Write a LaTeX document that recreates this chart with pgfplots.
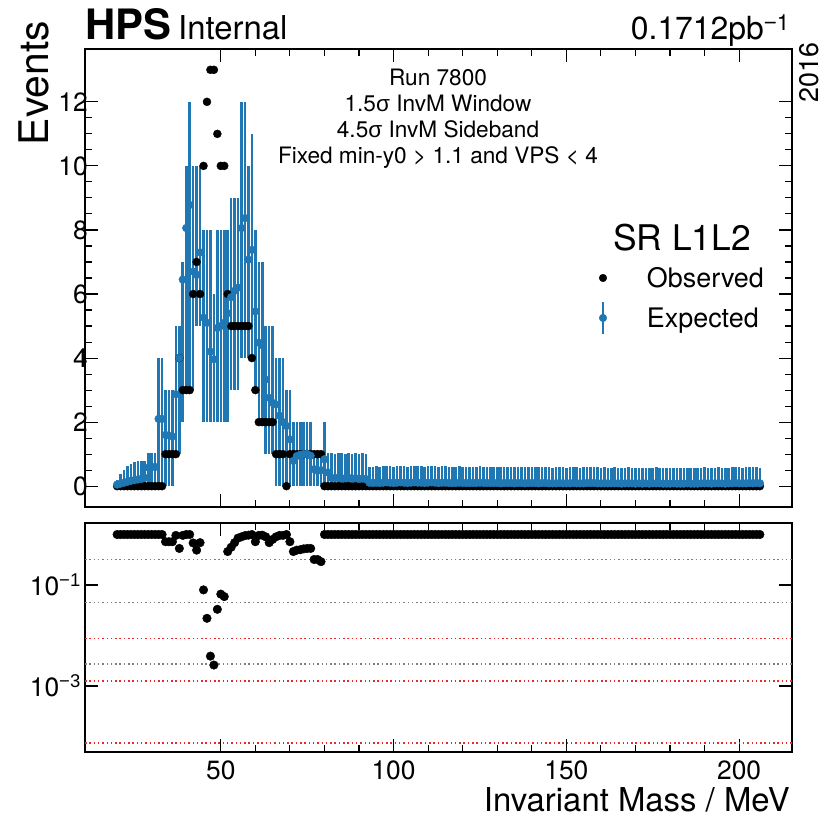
\documentclass[border=0pt]{standalone}
\usepackage{fontspec}
\setmainfont{TeX Gyre Heros}
\newfontfamily\lib{Liberation Sans}
\usepackage{pgfplots}
\usepackage{pgfplotstable}
\pgfplotsset{compat=1.18}
\definecolor{tabblue}{HTML}{1F77B4}
\definecolor{refgray}{HTML}{808080}
\definecolor{refred}{HTML}{E8282B}

\pgfplotstableread{
m obs exp lo hi p
20 0 0.05 0 0.20 1
21 0 0.08 0 0.38 1
22 0 0.11 0 0.52 1
23 0 0.14 0 0.62 1
24 0 0.17 0 0.70 1
25 0 0.19 0 0.75 1
26 0 0.21 0 0.78 1
27 0 0.23 0 0.79 1
28 0 0.26 0 0.80 1
29 0 0.58 0 1.05 1
30 0 0.60 0 1.05 1
31 0 0.60 0 1.05 1
32 0 2.10 0 4 1
33 0 2.10 0 4 1
34 1 1.60 0 3 0.72
35 1 1.58 0 3 0.72
36 1 1.55 0 3 0.72
37 1 2.87 1 5 0.96
38 4 4.00 1 5 0.53
39 3 6.45 2 7 0.96
40 3 8.06 3 10 1.0
41 3 8.78 3 12 1.0
42 6 6.70 3 10 0.68
43 7 6.60 5 10 0.49
44 6 7.30 5 10 0.69
45 10 5.26 2 8 0.080
46 12 5.10 2 8 0.0219
47 13 4.20 2 8 0.0039
48 13 3.96 2 6 0.0026
49 11 4.94 2 8 0.033
50 10 5.00 2 8 0.066
51 10 5.10 2 8 0.059
52 6 5.40 2 8 0.46
53 5 5.90 3 9 0.56
54 5 6.10 3 9 0.69
55 5 6.20 3 9 0.85
56 5 8.06 4 12 0.90
57 5 8.37 4 12 0.95
58 5 7.07 4 10 0.97
59 4 7.38 4 11 1.0
60 3 5.46 3 8 0.72
61 2 4.48 2 7 0.96
62 2 4.40 2 7 0.97
63 2 3.33 1 5 0.90
64 2 2.76 1 5 0.69
65 2 2.60 1 5 0.80
66 1 2.55 0 4 0.90
67 1 2.20 0 4 0.96
68 1 2.00 0 4 0.96
69 0 1.88 0 3 1.0
70 1 1.46 0 3 0.72
71 1 0.79 0 2 0.46
72 1 0.94 0 2 0.49
73 1 0.98 0 2 0.50
74 1 1.00 0 2 0.52
75 1 1.00 0 2 0.53
76 1 0.95 0 2 0.53
77 1 0.53 0 1 0.32
78 1 0.48 0 1 0.32
79 1 0.50 0 1 0.29
80 0 0.84 0 2 1
81 0 0.43 0 1.03 1
82 0 0.26 0 1.03 1
83 0 0.25 0 1.02 1
84 0 0.27 0 1.03 1
85 0 0.24 0 1.03 1
86 0 0.25 0 1.02 1
87 0 0.26 0 1.03 1
88 0 0.24 0 1.02 1
89 0 0.25 0 1.03 1
90 0 0.23 0 1.02 1
91 0 0.24 0 1.03 1
92 0 0.22 0 1.02 1
93 0 0.11 0 0.60 1
94 0 0.10 0 0.61 1
95 0 0.11 0 0.62 1
96 0 0.10 0 0.61 1
97 0 0.11 0 0.62 1
98 0 0.12 0 0.63 1
99 0 0.11 0 0.62 1
100 0 0.10 0 0.61 1
101 0 0.11 0 0.62 1
102 0 0.12 0 0.63 1
103 0 0.11 0 0.62 1
104 0 0.10 0 0.61 1
105 0 0.11 0 0.62 1
106 0 0.12 0 0.63 1
107 0 0.11 0 0.62 1
108 0 0.11 0 0.62 1
109 0 0.10 0 0.61 1
110 0 0.11 0 0.62 1
111 0 0.12 0 0.63 1
112 0 0.11 0 0.62 1
113 0 0.10 0 0.61 1
114 0 0.11 0 0.62 1
115 0 0.11 0 0.62 1
116 0 0.10 0 0.61 1
117 0 0.10 0 0.60 1
118 0 0.10 0 0.61 1
119 0 0.11 0 0.62 1
120 0 0.10 0 0.61 1
121 0 0.10 0 0.60 1
122 0 0.10 0 0.61 1
123 0 0.10 0 0.60 1
124 0 0.10 0 0.61 1
125 0 0.11 0 0.62 1
126 0 0.10 0 0.61 1
127 0 0.10 0 0.60 1
128 0 0.10 0 0.60 1
129 0 0.10 0 0.61 1
130 0 0.10 0 0.60 1
131 0 0.09 0 0.59 1
132 0 0.10 0 0.60 1
133 0 0.10 0 0.61 1
134 0 0.10 0 0.60 1
135 0 0.09 0 0.59 1
136 0 0.10 0 0.60 1
137 0 0.10 0 0.60 1
138 0 0.09 0 0.59 1
139 0 0.10 0 0.60 1
140 0 0.10 0 0.61 1
141 0 0.10 0 0.60 1
142 0 0.09 0 0.59 1
143 0 0.10 0 0.60 1
144 0 0.10 0 0.60 1
145 0 0.09 0 0.59 1
146 0 0.09 0 0.58 1
147 0 0.09 0 0.59 1
148 0 0.10 0 0.60 1
149 0 0.09 0 0.59 1
150 0 0.09 0 0.58 1
151 0 0.09 0 0.59 1
152 0 0.10 0 0.60 1
153 0 0.09 0 0.59 1
154 0 0.09 0 0.58 1
155 0 0.09 0 0.59 1
156 0 0.10 0 0.60 1
157 0 0.10 0 0.61 1
158 0 0.10 0 0.60 1
159 0 0.09 0 0.59 1
160 0 0.09 0 0.58 1
161 0 0.09 0 0.59 1
162 0 0.09 0 0.58 1
163 0 0.09 0 0.58 1
164 0 0.09 0 0.59 1
165 0 0.09 0 0.58 1
166 0 0.08 0 0.57 1
167 0 0.09 0 0.58 1
168 0 0.09 0 0.59 1
169 0 0.09 0 0.58 1
170 0 0.08 0 0.57 1
171 0 0.09 0 0.58 1
172 0 0.08 0 0.57 1
173 0 0.09 0 0.58 1
174 0 0.08 0 0.57 1
175 0 0.09 0 0.58 1
176 0 0.09 0 0.59 1
177 0 0.09 0 0.58 1
178 0 0.08 0 0.57 1
179 0 0.08 0 0.56 1
180 0 0.08 0 0.57 1
181 0 0.09 0 0.58 1
182 0 0.08 0 0.57 1
183 0 0.08 0 0.56 1
184 0 0.08 0 0.57 1
185 0 0.09 0 0.58 1
186 0 0.08 0 0.57 1
187 0 0.08 0 0.56 1
188 0 0.08 0 0.57 1
189 0 0.09 0 0.58 1
190 0 0.09 0 0.59 1
191 0 0.09 0 0.58 1
192 0 0.08 0 0.57 1
193 0 0.09 0 0.58 1
194 0 0.09 0 0.59 1
195 0 0.09 0 0.58 1
196 0 0.08 0 0.57 1
197 0 0.09 0 0.58 1
198 0 0.09 0 0.59 1
199 0 0.10 0 0.60 1
200 0 0.09 0 0.59 1
201 0 0.09 0 0.58 1
202 0 0.09 0 0.59 1
203 0 0.10 0 0.60 1
204 0 0.09 0 0.59 1
205 0 0.10 0 0.60 1
206 0 0.09 0 0.58 1
}\data

\begin{document}
\begin{tikzpicture}
\path[use as bounding box] (0bp,0bp) rectangle (824bp,819bp);
\pgfplotsset{
  hps/.style={
    scale only axis, width=707bp,
    xmin=10.7, xmax=215.3,
    axis line style={line width=2.2bp},
    tick align=inside,
    major tick length=13bp, minor tick length=7bp,
    every tick/.style={black, line width=1.1bp},
    tick label style={font=\fontsize{26.5}{26.5}\selectfont},
    /pgf/number format/assume math mode=true,
    xtick={50,100,150,200}, minor x tick num=4,
  }
}
% ---------- top panel ----------
\begin{axis}[hps, at={(85bp,312bp)}, anchor=south west, height=458bp,
  ymin=-0.65, ymax=13.65, ytick={0,2,4,6,8,10,12}, minor y tick num=3,
  xticklabels={},
  yticklabel style={inner sep=0pt, xshift=3bp},
  legend style={at={(0.7072,0.5197)}, anchor=north west, draw=none, fill=none,
    inner sep=0pt, outer sep=0pt,
    font=\fontsize{27}{27}\selectfont, row sep=15bp, column sep=0bp,
    nodes={inner sep=0pt, outer sep=0pt, text height=19bp, text depth=6bp}},
  legend cell align=left,
]
\addplot[only marks, mark=*, mark size=4bp, black,
  legend image code/.code={\path[draw=none, fill=none, use as bounding box] (0bp,-12bp) rectangle (62bp,12bp); \fill[black] (18bp,3.5bp) circle (3.8bp);}]
  table[x=m, y=obs]{\data};
\addlegendentry{Observed}
\addplot[only marks, mark=*, mark size=3.9bp, color=tabblue, mark options={draw=tabblue, fill=tabblue},
  error bars/.cd, y dir=both, y explicit, error mark=none,
  error bar style={line width=2.6bp, tabblue},
  /pgfplots/legend image code/.code={\path[draw=none, fill=none, use as bounding box] (0bp,-12bp) rectangle (62bp,12bp); \draw[tabblue, line width=2.6bp] (18bp,-12.5bp) -- (18bp,19.5bp); \fill[tabblue] (18bp,3.5bp) circle (3.8bp);}]
  table[x=m, y=exp, y error plus expr=\thisrow{hi}-\thisrow{exp}, y error minus expr=\thisrow{exp}-\thisrow{lo}]{\data};
\addlegendentry{Expected}
\end{axis}
% ---------- lower panel ----------
\begin{axis}[hps, at={(85bp,67bp)}, anchor=south west, height=229bp,
  ymode=log, ymin=4.93e-5, ymax=1.69,
  ytick={1e-3,1e-1}, yticklabels={10\textsuperscript{\lib −3},10\textsuperscript{\lib −1}},
  yminorticks=false,
  xticklabels={50,100,150,200},
  yticklabel style={inner sep=0pt, xshift=-4bp},
  xticklabel style={inner sep=0pt, yshift=-9bp},
]
\addplot[refgray, line width=1.5bp, dash pattern=on 1.5bp off 2.8bp] coordinates {(10.7,0.3173) (215.3,0.3173)};
\addplot[refgray, line width=1.5bp, dash pattern=on 1.5bp off 2.8bp] coordinates {(10.7,0.0455) (215.3,0.0455)};
\addplot[refgray, line width=1.5bp, dash pattern=on 1.5bp off 2.8bp] coordinates {(10.7,0.0027) (215.3,0.0027)};
\addplot[refred, line width=1.5bp, dash pattern=on 1.5bp off 2.8bp] coordinates {(10.7,0.008814) (215.3,0.008814)};
\addplot[refred, line width=1.5bp, dash pattern=on 1.5bp off 2.8bp] coordinates {(10.7,0.001264) (215.3,0.001264)};
\addplot[refred, line width=1.5bp, dash pattern=on 1.5bp off 2.8bp] coordinates {(10.7,0.000075) (215.3,0.000075)};
\addplot[only marks, mark=*, mark size=4.3bp, black] table[x=m, y=p]{\data};
\end{axis}
% ---------- texts ----------
\node[anchor=base west, inner sep=0pt, font=\fontsize{42}{42}\selectfont\bfseries] at (85bp,779bp) {HPS};
\node[anchor=base west, inner sep=0pt, font=\fontsize{33}{33}\selectfont] at (178bp,779bp) {Internal};
\node[anchor=base east, inner sep=0pt, font=\fontsize{32}{32}\selectfont] at (790bp,779bp) {0.1712pb\textsuperscript{{\lib −}1}};
\node[rotate=90, anchor=base east, inner sep=0pt, font=\fontsize{27}{27}\selectfont] at (818bp,777bp) {2016};
\node[rotate=90, anchor=base east, inner sep=0pt, font=\fontsize{41}{41}\selectfont] at (48bp,798bp) {Events};
\node[anchor=base east, inner sep=0pt, font=\fontsize{33}{33}\selectfont] at (790bp,8bp) {Invariant Mass / MeV};
\node[anchor=base, inner sep=0pt, font=\fontsize{22.7}{22.7}\selectfont] at (438bp,733bp) {Run 7800};
\node[anchor=base, inner sep=0pt, font=\fontsize{22.7}{22.7}\selectfont] at (438bp,707bp) {1.5{\lib σ} InvM Window};
\node[anchor=base, inner sep=0pt, font=\fontsize{22.7}{22.7}\selectfont] at (438bp,681bp) {4.5{\lib σ} InvM Sideband};
\node[anchor=base, inner sep=0pt, font=\fontsize{22.7}{22.7}\selectfont] at (438bp,655bp) {Fixed min-y0 > 1.1 and VPS < 4};
\node[anchor=base, inner sep=0pt, font=\fontsize{35.5}{35.5}\selectfont] at (682bp,568bp) {SR L1L2};
\end{tikzpicture}
\end{document}
